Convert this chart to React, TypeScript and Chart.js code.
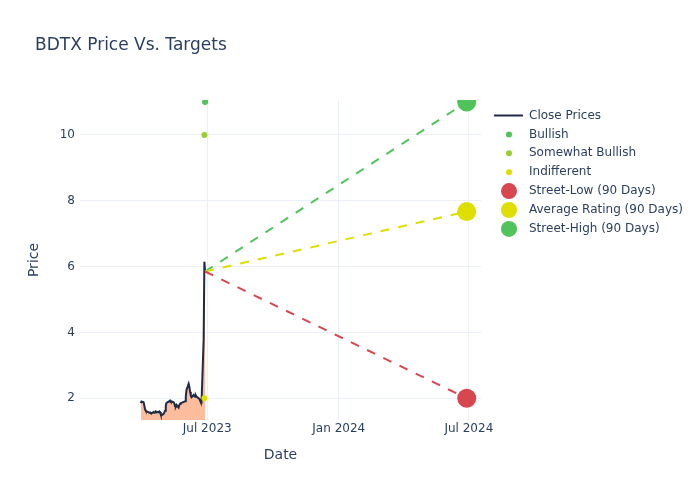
import React, { useEffect, useRef } from 'react';
import { Chart, registerables } from 'chart.js';

Chart.register(...registerables);

// ---------- DATA ----------
const chartTitle = 'BDTX Price Vs. Targets';

const priceDates = [
  '2023-03-30', '2023-03-31', '2023-04-03', '2023-04-04', '2023-04-05', '2023-04-06',
  '2023-04-10', '2023-04-11', '2023-04-12', '2023-04-13', '2023-04-14',
  '2023-04-17', '2023-04-18', '2023-04-19', '2023-04-20', '2023-04-21',
  '2023-04-24', '2023-04-25', '2023-04-26', '2023-04-27', '2023-04-28',
  '2023-05-01', '2023-05-02', '2023-05-03', '2023-05-04', '2023-05-05',
  '2023-05-08', '2023-05-09', '2023-05-10', '2023-05-11', '2023-05-12',
  '2023-05-15', '2023-05-16', '2023-05-17', '2023-05-18', '2023-05-19',
  '2023-05-22', '2023-05-23', '2023-05-24', '2023-05-25', '2023-05-26',
  '2023-05-30', '2023-05-31', '2023-06-01', '2023-06-02',
  '2023-06-05', '2023-06-06', '2023-06-07', '2023-06-08', '2023-06-09',
  '2023-06-12', '2023-06-13', '2023-06-14', '2023-06-15', '2023-06-16',
  '2023-06-20', '2023-06-21', '2023-06-22', '2023-06-23',
  '2023-06-26', '2023-06-27', '2023-06-28',
];
const closePrices = [
  1.85, 1.9, 1.88, 1.78, 1.66, 1.62,
  1.57, 1.56, 1.57, 1.55, 1.54,
  1.58, 1.56, 1.57, 1.6, 1.59,
  1.57, 1.6, 1.58, 1.51, 1.48,
  1.53, 1.57, 1.62, 1.78, 1.86,
  1.9, 1.91, 1.93, 1.9, 1.91,
  1.88, 1.84, 1.76, 1.75, 1.8,
  1.72, 1.8, 1.83, 1.85, 1.86,
  1.9, 1.91, 2.05, 2.25,
  2.44, 2.35, 2.2, 2.08, 2.03,
  2.1, 2.06, 2.05, 2.09, 2.05,
  1.98, 1.93, 1.88, 1.87,
  3.8, 6.15, 5.85,
];

const bullishDates = ['2023-06-28'];
const bullishTargets = [11];
const somewhatBullishDates = ['2023-06-27'];
const somewhatBullishTargets = [10];
const indifferentDates = ['2023-06-27'];
const indifferentTargets = [2];

const lastCloseDate = '2023-06-28';
const lastClose = 5.85;
const targetDate = '2024-06-28';
const streetLow = 2;
const averageRating = 7.67;
const streetHigh = 11;

const xTickDates = ['2023-07-01', '2024-01-01', '2024-07-01'];
const xTickLabels = ['Jul 2023', 'Jan 2024', 'Jul 2024'];
const yTickValues = [2, 4, 6, 8, 10];
const xRange = ['2023-01-04', '2024-07-18'];
const yRange = [1.34, 11.06];

// ---------- HELPERS ----------
const t = (s: string) => Date.parse(s + 'T00:00:00Z');
const FONT = '"DejaVu Sans", Verdana, sans-serif';
const TEXT = '#2a3f5f';
const GRID = '#ebf0f8';

const C_LINE = '#1e2a48';
const C_FILL = '#fdbd9c';
const C_GREEN = '#50c35a';
const C_YGREEN = '#9acd32';
const C_YELLOW = '#dede00';
const C_RED = '#d8464f';

const titlePlugin = {
  id: 'plotTitle',
  afterDraw(chart: any) {
    const ctx = chart.ctx;
    ctx.save();
    ctx.font = `17px ${FONT}`;
    ctx.fillStyle = TEXT;
    ctx.textBaseline = 'middle';
    ctx.textAlign = 'left';
    ctx.fillText(chartTitle, 35, 45.5);
    ctx.restore();
  },
};

const legendPlugin = {
  id: 'sideLegend',
  afterDraw(chart: any) {
    const ctx = chart.ctx;
    const items = chart.data.datasets.filter((ds: any) => ds.legendKind);
    ctx.save();
    ctx.font = `12px ${FONT}`;
    ctx.textBaseline = 'middle';
    ctx.textAlign = 'left';
    items.forEach((ds: any, i: number) => {
      const y = 115.5 + i * 18.9;
      if (ds.legendKind === 'line') {
        ctx.strokeStyle = ds.borderColor;
        ctx.lineWidth = 2;
        ctx.beginPath();
        ctx.moveTo(494, y);
        ctx.lineTo(523, y);
        ctx.stroke();
      } else {
        ctx.fillStyle = ds.backgroundColor;
        ctx.beginPath();
        ctx.arc(509, y, ds.legendKind === 'big' ? 8 : 3, 0, Math.PI * 2);
        ctx.fill();
      }
      ctx.fillStyle = TEXT;
      ctx.fillText(ds.label, 529, y);
    });
    ctx.restore();
  },
};

export default function App() {
  const ref = useRef<HTMLCanvasElement | null>(null);

  useEffect(() => {
    if (!ref.current) return;
    const pts = (dates: string[], vals: number[]) => dates.map((d, i) => ({ x: t(d), y: vals[i] }));
    const targetLine = (val: number, color: string) => ({
      type: 'line',
      order: 2,
      data: [{ x: t(lastCloseDate), y: lastClose }, { x: t(targetDate), y: val }],
      borderColor: color,
      borderWidth: 2,
      borderDash: [9, 9],
      pointRadius: 0,
      fill: false,
    });
    const marker = (label: string, dates: string[], vals: number[], color: string, r: number, kind: string, order: number) => ({
      type: 'scatter',
      label,
      legendKind: kind,
      order,
      data: pts(dates, vals),
      backgroundColor: color,
      borderWidth: 0,
      pointRadius: r,
      pointHoverRadius: r,
    });

    const chart = new Chart(ref.current, {
      type: 'scatter',
      data: {
        datasets: [
          {
            type: 'line',
            label: 'Close Prices',
            legendKind: 'line',
            order: 3,
            data: pts(priceDates, closePrices),
            borderColor: C_LINE,
            borderWidth: 2,
            backgroundColor: C_FILL,
            fill: 'start',
            pointRadius: 0,
            tension: 0,
          },
          marker('Bullish', bullishDates, bullishTargets, C_GREEN, 3, 'small', 1),
          marker('Somewhat Bullish', somewhatBullishDates, somewhatBullishTargets, C_YGREEN, 3, 'small', 1),
          marker('Indifferent', indifferentDates, indifferentTargets, C_YELLOW, 3, 'small', 1),
          marker('Street-Low (90 Days)', [targetDate], [streetLow], C_RED, 9.5, 'big', 0),
          marker('Average Rating (90 Days)', [targetDate], [averageRating], C_YELLOW, 9.5, 'big', 0),
          marker('Street-High (90 Days)', [targetDate], [streetHigh], C_GREEN, 9.5, 'big', 0),
          targetLine(streetLow, C_RED),
          targetLine(averageRating, C_YELLOW),
          targetLine(streetHigh, C_GREEN),
        ] as any,
      },
      options: {
        responsive: false,
        animation: false,
        devicePixelRatio: 1,
        layout: { padding: { top: 100, right: 219, left: 0, bottom: 0 } },
        plugins: {
          legend: { display: false },
          title: { display: false },
          tooltip: { enabled: false },
        },
        scales: {
          x: {
            type: 'linear',
            min: t(xRange[0]),
            max: t(xRange[1]),
            border: { display: false },
            grid: { color: GRID, drawTicks: false, lineWidth: 1 },
            ticks: {
              color: TEXT,
              font: { family: FONT, size: 12 },
              padding: 2,
              maxRotation: 0,
              autoSkip: false,
              callback: (v: any) => {
                const i = xTickDates.findIndex((d) => t(d) === v);
                return i >= 0 ? xTickLabels[i] : '';
              },
            },
            afterBuildTicks: (scale: any) => {
              scale.ticks = xTickDates.map((d) => ({ value: t(d) }));
            },
            afterFit: (scale: any) => {
              scale.height = 80;
            },
            title: {
              display: true,
              text: 'Date',
              color: TEXT,
              font: { family: FONT, size: 14 },
              padding: { top: 0, bottom: 36 },
            },
          },
          y: {
            type: 'linear',
            min: yRange[0],
            max: yRange[1],
            border: { display: false },
            grid: { color: GRID, drawTicks: false, lineWidth: 1 },
            ticks: {
              color: TEXT,
              font: { family: FONT, size: 12 },
              padding: 5,
            },
            afterBuildTicks: (scale: any) => {
              scale.ticks = yTickValues.map((v) => ({ value: v }));
            },
            afterFit: (scale: any) => {
              scale.width = 80;
            },
            title: {
              display: true,
              text: 'Price',
              color: TEXT,
              font: { family: FONT, size: 14 },
              padding: { top: 26, bottom: 0 },
            },
          },
        },
      } as any,
      plugins: [titlePlugin, legendPlugin],
    });
    return () => chart.destroy();
  }, []);

  return (
    <div style={{ position: 'absolute', left: 0, top: 0, width: 700, height: 500, background: '#fff' }}>
      <canvas ref={ref} width={700} height={500} />
    </div>
  );
}
